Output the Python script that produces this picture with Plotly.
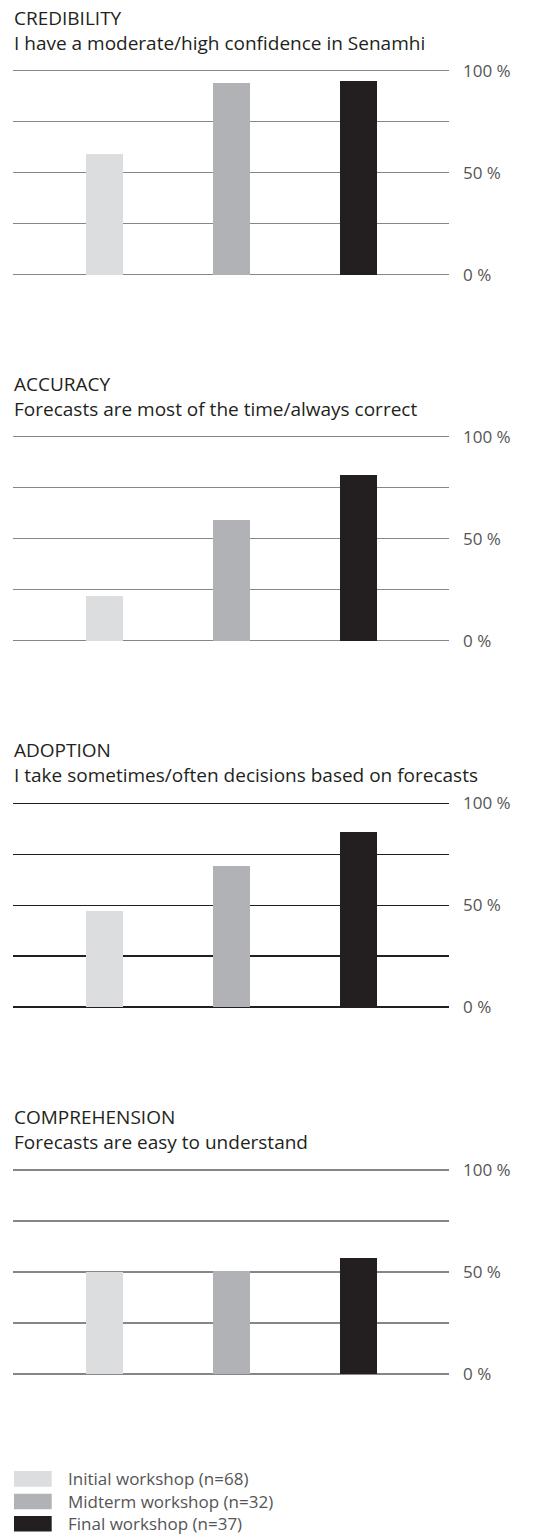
import plotly.graph_objects as go

W, H = 535, 1535

# ---- data ----
workshops = ["Initial workshop (n=68)", "Midterm workshop (n=32)", "Final workshop (n=37)"]
panel_titles = ["CREDIBILITY", "ACCURACY", "ADOPTION", "COMPREHENSION"]
panel_subtitles = [
    "I have a moderate/high confidence in Senamhi",
    "Forecasts are most of the time/always correct",
    "I take sometimes/often decisions based on forecasts",
    "Forecasts are easy to understand",
]
initial_vals = [59, 22, 47, 50]
midterm_vals = [94, 59, 69, 50.5]
final_vals = [95, 81, 86, 57]
tick_vals = [0, 25, 50, 75, 100]
tick_text = ["0 %", "", "50 %", "", "100 %"]

# ---- style ----
bar_colors = ["#dcdddf", "#b1b2b5", "#231f20"]
grid_colors = ["#868686", "#868686", "#231f20", "#868686"]
text_color = "#231f20"
tick_color = "#555555"
FONT = "Open Sans"
TITLE_SIZE = 19

# pixel geometry of each panel: (100% line, 0% line)
panel_px = [(70.7, 274.7), (436.7, 640.7), (803.3, 1007.0), (1170.0, 1374.0)]
x_left, x_right = 13.3, 449.0
PAD = 1.0  # value padding so edge gridlines are drawn


def py(y):
    return 1 - y / H


fig = go.Figure()
series = [initial_vals, midterm_vals, final_vals]

annotations = []
for i in range(4):
    ax = "" if i == 0 else str(i + 1)
    for j, name in enumerate(workshops):
        fig.add_trace(go.Bar(
            x=[name], y=[series[j][i]],
            width=0.29,
            marker=dict(color=bar_colors[j], line=dict(width=0)),
            name=name, showlegend=False,
            xaxis="x" + ax, yaxis="y" + ax,
        ))
    top, bot = panel_px[i]
    ppu = (bot - top) / 100.0
    fig.update_layout(**{
        "xaxis" + ax: dict(
            domain=[x_left / W, x_right / W],
            anchor="y" + ax,
            type="category",
            categoryorder="array", categoryarray=workshops,
            range=[-0.718, 2.713],
            showticklabels=False, showgrid=False, zeroline=False,
            showline=False, ticks="", fixedrange=True, automargin=False,
        ),
        "yaxis" + ax: dict(
            domain=[py(bot + PAD * ppu), py(top - PAD * ppu)],
            anchor="x" + ax,
            side="right",
            range=[-PAD, 100 + PAD],
            tickvals=tick_vals, ticktext=tick_text,
            showgrid=True, gridcolor=grid_colors[i], gridwidth=1.3,
            zeroline=False, showline=False, ticks="",
            ticklabelstandoff=13,
            tickfont=dict(family=FONT, size=17, color=tick_color),
            fixedrange=True, automargin=False,
        ),
    })
    # two-line title block
    title_base = top - 46.7
    annotations.append(dict(
        text=panel_titles[i] + "<br>" + panel_subtitles[i],
        x=x_left / W, y=py(title_base - 1.069 * TITLE_SIZE),
        xref="paper", yref="paper", xanchor="left", yanchor="top",
        align="left", showarrow=False,
        font=dict(family=FONT, size=TITLE_SIZE, color=text_color),
        borderpad=0,
    ))

# legend (drawn manually)
shapes = []
legend_rows = [(1471.0, 1486.7), (1493.7, 1509.3), (1516.0, 1531.5)]
for j, name in enumerate(workshops):
    y0, y1 = legend_rows[j]
    shapes.append(dict(
        type="rect", xref="paper", yref="paper",
        x0=14 / W, x1=51.7 / W, y0=py(y1), y1=py(y0),
        fillcolor=bar_colors[j], line=dict(width=0),
    ))
    annotations.append(dict(
        text=name, x=67 / W, y=py((y0 + y1) / 2),
        xref="paper", yref="paper", xanchor="left", yanchor="middle",
        showarrow=False, font=dict(family=FONT, size=17, color=tick_color),
        borderpad=0,
    ))

fig.update_layout(
    width=W, height=H, autosize=False,
    margin=dict(l=0, r=0, t=0, b=0, pad=0, autoexpand=False),
    paper_bgcolor="white", plot_bgcolor="white",
    bargap=0, barmode="overlay",
    annotations=annotations, shapes=shapes,
    showlegend=False,
)

fig.write_html(
    "out.html",
    config={"displayModeBar": False, "staticPlot": True},
    post_script=(
        "document.documentElement.style.margin='0';"
        "document.body.style.margin='0';document.body.style.padding='0';"
        "var d=document.querySelector('.plotly-graph-div');"
        "d.style.position='absolute';d.style.top='0px';d.style.left='0px';"
    ),
)
